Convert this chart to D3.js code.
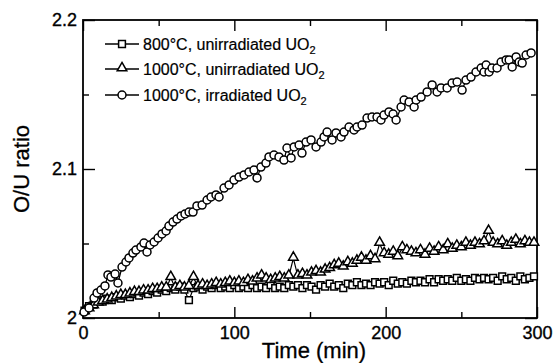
<!DOCTYPE html>
<html><head><meta charset="utf-8">
<script src="https://cdn.jsdelivr.net/npm/d3@7"></script>
<style>
html,body{margin:0;padding:0;background:#fff;}
svg{display:block;font-family:"Liberation Sans",Arial,Helvetica,sans-serif;}
</style></head>
<body><svg id="c" width="556" height="363"></svg>
<script>
// ---- data ----
const seriesNames = ["800°C, unirradiated UO", "1000°C, unirradiated UO", "1000°C, irradiated UO"];
const xTicksMajor = [0, 100, 200, 300];
const xTicksMinor = [50, 150, 250];
const yTicksMajor = [2.0, 2.1, 2.2];
const yTickLabels = ["2", "2.1", "2.2"];
const yTicksMinor = [2.05, 2.15];

const timeUnirr = [1,4,7,10,13,16,19,22,25,28,31,34,37,40,43,46,49,52,55,58,61,64,67,70,73,76,79,82,85,88,91,94,97,100,103,106,109,112,115,118,121,124,127,130,133,136,139,142,145,148,151,154,157,160,163,166,169,172,175,178,181,184,187,190,193,196,199,202,205,208,211,214,217,220,223,226,229,232,235,238,241,244,247,250,253,256,259,262,265,268,271,274,277,280,283,286,289,292,295,298];

const ou800 = [2.005,2.008,2.009,2.012,2.011,2.013,2.012,2.014,2.013,2.015,2.014,2.016,2.015,2.017,2.016,2.018,2.017,2.019,2.018,2.020,2.019,2.021,2.019,2.012,2.020,2.021,2.019,2.021,2.020,2.022,2.020,2.021,2.020,2.022,2.020,2.021,2.020,2.022,2.020,2.021,2.020,2.022,2.020,2.021,2.020,2.022,2.021,2.022,2.020,2.022,2.021,2.019,2.022,2.021,2.023,2.021,2.022,2.020,2.023,2.022,2.024,2.022,2.023,2.022,2.024,2.023,2.024,2.022,2.025,2.023,2.024,2.023,2.025,2.024,2.025,2.024,2.026,2.024,2.026,2.025,2.026,2.025,2.027,2.025,2.026,2.025,2.027,2.026,2.027,2.026,2.027,2.025,2.028,2.026,2.027,2.025,2.028,2.026,2.027,2.028];

const ou1000u = [2.004,2.006,2.008,2.010,2.011,2.012,2.013,2.014,2.015,2.015,2.016,2.017,2.017,2.018,2.018,2.019,2.019,2.020,2.020,2.027,2.020,2.021,2.020,2.021,2.027,2.021,2.022,2.021,2.022,2.023,2.022,2.023,2.024,2.023,2.024,2.023,2.025,2.024,2.026,2.028,2.026,2.025,2.026,2.027,2.026,2.028,2.040,2.028,2.029,2.028,2.030,2.031,2.030,2.032,2.033,2.035,2.036,2.034,2.037,2.036,2.038,2.040,2.038,2.041,2.039,2.050,2.043,2.042,2.044,2.041,2.047,2.045,2.044,2.043,2.045,2.042,2.046,2.044,2.047,2.045,2.049,2.046,2.048,2.047,2.050,2.048,2.050,2.049,2.051,2.058,2.050,2.049,2.051,2.048,2.050,2.052,2.049,2.051,2.050,2.050];

const timeIrr = [0.7,4.0,7.3,9.3,11.9,14.5,16.5,18.5,21.2,23.1,25.8,28.4,30.4,33.0,35.0,38.3,40.3,42.3,44.3,47.0,49.6,52.2,54.9,56.8,59.5,62.1,64.8,67.4,70.1,72.7,75.3,78.7,82.0,84.6,87.9,89.9,93.2,96.5,99.8,103.1,106.4,109.7,113.0,115.0,117.6,120.9,122.9,126.2,129.5,132.8,134.8,137.5,139.5,142.8,144.7,147.4,150.7,154.0,157.3,159.3,161.3,164.6,167.2,170.5,172.5,175.8,179.1,181.1,184.4,187.7,191.0,194.3,196.9,198.9,202.2,204.9,206.9,210.2,212.2,215.5,218.8,220.1,223.4,227.4,230.7,234.0,236.6,240.6,243.9,247.2,250.5,253.1,256.4,259.7,263.1,265.0,266.4,268.3,270.3,273.6,276.3,279.6,281.6,283.6,286.2,288.2,290.2,292.8,296.1];

const ou1000i = [2.0040,2.0067,2.0134,2.0168,2.0188,2.0215,2.0289,2.0275,2.0295,2.0235,2.0342,2.0376,2.0403,2.0436,2.0456,2.0477,2.0503,2.0443,2.0490,2.0510,2.0537,2.0564,2.0584,2.0617,2.0644,2.0664,2.0685,2.0698,2.0711,2.0711,2.0752,2.0758,2.0792,2.0812,2.0826,2.0812,2.0872,2.0893,2.0926,2.0946,2.0960,2.0980,2.0993,2.0940,2.1013,2.1040,2.1081,2.1094,2.1081,2.1060,2.1141,2.1074,2.1148,2.1161,2.1107,2.1181,2.1195,2.1148,2.1181,2.1215,2.1248,2.1195,2.1242,2.1215,2.1248,2.1282,2.1262,2.1282,2.1295,2.1342,2.1349,2.1349,2.1329,2.1362,2.1383,2.1369,2.1329,2.1416,2.1463,2.1450,2.1416,2.1463,2.1483,2.1517,2.1564,2.1517,2.1544,2.1544,2.1577,2.1584,2.1530,2.1597,2.1617,2.1651,2.1678,2.1651,2.1698,2.1651,2.1678,2.1678,2.1718,2.1732,2.1732,2.1685,2.1752,2.1718,2.1711,2.1765,2.1779];

// ---- layout ----
const svg = d3.select("#c");
const L = 83, R = 537, T = 20, B = 318;
const x = d3.scaleLinear().domain([0, 300]).range([L, R]);
const y = d3.scaleLinear().domain([2.0, 2.2]).range([B, T]);

const axisStyle = g => {
  g.select(".domain").remove();
  g.selectAll("line").attr("stroke", "#000").attr("stroke-width", 1.4);
  g.selectAll("text").attr("fill", "#000").attr("font-size", 18)
   .attr("stroke", "#000").attr("stroke-width", 0.35)
   .attr("font-family", '"Liberation Sans",Arial,sans-serif');
};

// bottom
svg.append("g").attr("transform", `translate(0,${B})`)
  .call(d3.axisBottom(x).tickValues(xTicksMajor).tickFormat(d3.format("d")).tickSizeInner(-11).tickSizeOuter(0).tickPadding(8))
  .call(axisStyle);
svg.append("g").attr("transform", `translate(0,${B})`)
  .call(d3.axisBottom(x).tickValues(xTicksMinor).tickFormat("").tickSizeInner(-6).tickSizeOuter(0))
  .call(axisStyle);
// top
svg.append("g").attr("transform", `translate(0,${T})`)
  .call(d3.axisTop(x).tickValues(xTicksMajor).tickFormat("").tickSizeInner(-11).tickSizeOuter(0))
  .call(axisStyle);
svg.append("g").attr("transform", `translate(0,${T})`)
  .call(d3.axisTop(x).tickValues(xTicksMinor).tickFormat("").tickSizeInner(-6).tickSizeOuter(0))
  .call(axisStyle);
// left
svg.append("g").attr("transform", `translate(${L},0)`)
  .call(d3.axisLeft(y).tickValues(yTicksMajor).tickFormat((d, i) => yTickLabels[i]).tickSizeInner(-12).tickSizeOuter(0).tickPadding(6))
  .call(axisStyle);
svg.append("g").attr("transform", `translate(${L},0)`)
  .call(d3.axisLeft(y).tickValues(yTicksMinor).tickFormat("").tickSizeInner(-6).tickSizeOuter(0))
  .call(axisStyle);
// right
svg.append("g").attr("transform", `translate(${R},0)`)
  .call(d3.axisRight(y).tickValues(yTicksMajor).tickFormat("").tickSizeInner(-12).tickSizeOuter(0))
  .call(axisStyle);
svg.append("g").attr("transform", `translate(${R},0)`)
  .call(d3.axisRight(y).tickValues(yTicksMinor).tickFormat("").tickSizeInner(-6).tickSizeOuter(0))
  .call(axisStyle);

// frame
svg.append("rect").attr("x", L).attr("y", T).attr("width", R - L).attr("height", B - T)
  .attr("fill", "none").attr("stroke", "#000").attr("stroke-width", 1.8);

// axis titles
svg.append("text").attr("x", (L + R) / 2 + 4).attr("y", 358).attr("text-anchor", "middle")
  .attr("font-size", 22).attr("stroke", "#000").attr("stroke-width", 0.3).text("Time (min)");
svg.append("text").attr("transform", `translate(29,${(T + B) / 2}) rotate(-90)`)
  .attr("text-anchor", "middle").attr("font-size", 22).attr("stroke", "#000").attr("stroke-width", 0.3).text("O/U ratio");

// series
const sym = {
  square: d3.symbol().type(d3.symbolSquare).size(46),
  triangle: d3.symbol().type(d3.symbolTriangle).size(40),
  circle: d3.symbol().type(d3.symbolCircle).size(50)
};
const series = [
  {t: timeUnirr, v: ou800, s: "square"},
  {t: timeUnirr, v: ou1000u, s: "triangle"},
  {t: timeIrr, v: ou1000i, s: "circle"}
];
const line = d3.line().x(d => x(d[0])).y(d => y(d[1]));
series.forEach(sr => {
  const pts = sr.t.map((t, i) => [t, sr.v[i]]);
  svg.append("path").datum(pts).attr("d", line).attr("fill", "none")
    .attr("stroke", "#000").attr("stroke-width", 1.2);
  svg.append("g").selectAll("path").data(pts).join("path")
    .attr("d", sym[sr.s]())
    .attr("transform", d => `translate(${x(d[0])},${y(d[1]) + (sr.s === "triangle" ? -1 : 0)})`)
    .attr("fill", "#fff").attr("stroke", "#000").attr("stroke-width", 1.5);
});

// legend
const legY = [44, 69, 95];
const legSym = ["square", "triangle", "circle"];
seriesNames.forEach((name, i) => {
  const g = svg.append("g").attr("transform", `translate(0,${legY[i]})`);
  g.append("line").attr("x1", 105).attr("x2", 139).attr("y1", 0).attr("y2", 0)
    .attr("stroke", "#000").attr("stroke-width", 1.4);
  g.append("path").attr("d", sym[legSym[i]]()).attr("transform", `translate(122,${legSym[i] === "triangle" ? -1 : 0})`)
    .attr("fill", "#fff").attr("stroke", "#000").attr("stroke-width", 1.5);
  const tx = g.append("text").attr("x", 143).attr("y", 5.5).attr("font-size", 16)
    .attr("stroke", "#000").attr("stroke-width", 0.2).text(name);
  tx.append("tspan").attr("font-size", 11).attr("dy", 4).text("2");
});
</script></body></html>
